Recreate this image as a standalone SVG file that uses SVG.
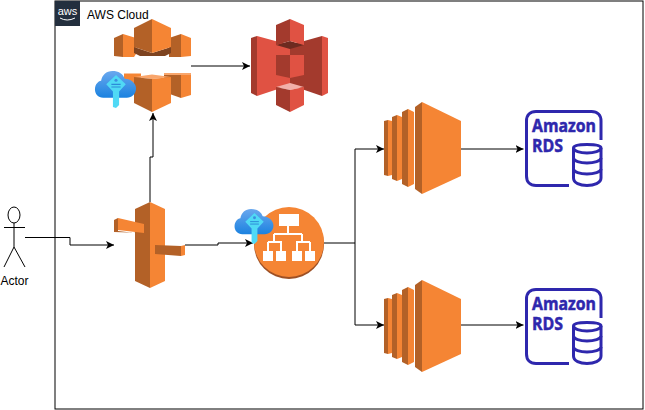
<svg xmlns="http://www.w3.org/2000/svg" width="645" height="410" viewBox="0 0 645 410">
<style>
.o{fill:#f58534}.d{fill:#7d4320}.m{fill:#b36127}.l{fill:#f9a66c}
.r{fill:#e05243}.rd{fill:#6e2a20}.rm{fill:#a33a2d}.rl{fill:#f2b0a9}
.c{fill:none;stroke:#000;stroke-width:1}
.t{font-family:"Liberation Sans",Arial,sans-serif;font-size:12px;fill:#000}
.rds{font-family:"Open Sans","Liberation Sans",sans-serif;font-size:18px;font-weight:700;fill:#2e27ad;stroke:#2e27ad;stroke-width:.5}
</style>
<defs>
<marker id="a" markerWidth="9" markerHeight="8" refX="8" refY="4" orient="auto" markerUnits="userSpaceOnUse"><path d="M0,0 L8,4 L0,8 L2,4Z" fill="#000"/></marker>
<linearGradient id="cg" x1="0" y1="0" x2="0" y2="1"><stop offset="0" stop-color="#6aa8ee"/><stop offset="1" stop-color="#1b82e0"/></linearGradient>
<symbol id="keycloud" viewBox="0 0 40 36">
<path d="M8,26 C3,26 0,22 0,18 C0,13 3,10 6,9.500 C7,4 11,0 17,0 C23,0 27,2.500 29,7.500 C35,7.500 40,12 40,17 C40,22 36,26 31,26Z" fill="url(#cg)"/>
<path d="M20.500,4 L30,13 L23.500,20 L23.500,33 L20.500,36 L17.500,35 L17.500,20 L11,13Z" fill="#50d9f5"/>
<circle cx="20.500" cy="9" r="1.500" fill="#3a8fe0"/>
<path d="M16,13 H25 M16,15.500 H25" stroke="#2c8ad8" stroke-width="1"/>
</symbol>
<symbol id="ec2" viewBox="0 0 77 92" overflow="visible">
<path class="m" d="M0,19 L4,18 V74 L0,73Z"/><path class="o" d="M4,18 L8,19 V73 L4,74Z"/>
<path class="m" d="M8,15 L13,13 V79 L8,77Z"/><path class="o" d="M13,13 L18,15 V77 L13,79Z"/>
<path class="m" d="M18,10 L24,7 V85 L18,82Z"/><path class="o" d="M24,7 L30,10 V82 L24,85Z"/>
<path class="m" d="M31,5 L38,0 V92 L31,87Z"/><path class="o" d="M38,0 L77,19 V74 L38,92Z"/>
</symbol>
<symbol id="rdsicon" viewBox="0 0 80 80" overflow="visible">
<path d="M44,75.500 H11 C5,75.500 1.500,72 1.500,66 V11 C1.500,5 5,1.500 11,1.500 H66.500 C72.500,1.500 76,5 76,11 V30" fill="none" stroke="#2e27ad" stroke-width="3"/>
<path d="M48.500,38 V68 C48.500,73 55,75.500 62,75.500 C69,75.500 76,73 76,68 V38 C76,35 69,34.500 62,34.500 C55,34.500 48.500,35 48.500,38Z" fill="#fff" stroke="#2e27ad" stroke-width="3"/>
<path d="M48.500,38 C48.500,41 55,43 62,43 C69,43 76,41 76,38 M48.500,48 C48.500,51 55,53 62,53 C69,53 76,51 76,48 M48.500,59 C48.500,62 55,64 62,64 C69,64 76,62 76,59" fill="none" stroke="#2e27ad" stroke-width="3"/>
<text class="rds" x="7" y="22" textLength="64" lengthAdjust="spacingAndGlyphs">Amazon</text>
<text class="rds" x="7" y="42" textLength="31" lengthAdjust="spacingAndGlyphs">RDS</text>
</symbol>
</defs>

<g id="aws-cloud">
<rect x="55" y="1" width="588" height="408" fill="#fff" stroke="#000" stroke-width="1"/>
<rect x="55" y="1" width="25" height="25" fill="#232f3e"/>
<text x="67.500" y="15" text-anchor="middle" style="font-family:'Liberation Sans',sans-serif;font-size:11px;fill:#fff">aws</text>
<path d="M60,18 Q67,22 75,18" fill="none" stroke="#fff" stroke-width="1"/>
<text class="t" x="87" y="19">AWS Cloud</text>
</g>

<g id="connectors">
<path class="c" marker-end="url(#a)" d="M25,237.500 H70 V245 H114"/>
<path class="c" marker-end="url(#a)" d="M150,202 V157 H153 V113"/>
<path class="c" marker-end="url(#a)" d="M191,66 H250"/>
<path class="c" marker-end="url(#a)" d="M185,245 H218 V243 H253"/>
<path class="c" marker-end="url(#a)" d="M324,243 H355 V149 H384"/>
<path class="c" marker-end="url(#a)" d="M355,243 V325 H384"/>
<path class="c" marker-end="url(#a)" d="M461,149 H523.500"/>
<path class="c" marker-end="url(#a)" d="M461,325 H523.500"/>
</g>

<g id="actor">
<ellipse cx="14" cy="215" rx="6" ry="8" fill="#fff" stroke="#000"/>
<path d="M14,223 V247 M4,227.500 H25 M14,247 L4,267 M14,247 L25,267" fill="none" stroke="#000"/>
<text class="t" x="14.500" y="285" text-anchor="middle">Actor</text>
</g>

<g id="cloudfront">
<path class="m" d="M114,38 L123,34 V57 L114,56Z"/><path class="o" d="M123,34 L136,38 V54 L134,57 H123Z"/>
<path class="m" d="M169,38 L181,34 V57 H169Z"/><path class="o" d="M181,34 L191,38 V56 L181,57Z"/>
<path class="d" d="M134,47 L152,53 L171,47 V53 L165,56 H140 L134,53Z"/>
<path class="m" d="M134,28 L152,19 V53 L134,47Z"/><path class="o" d="M152,19 L171,28 V47 L152,53Z"/>
<path class="o" d="M124,73.500 H141 V92 H124Z"/>
<path class="m" d="M164,73.500 H181 V98 L164,92Z"/><path class="o" d="M181,73.500 H191 V95 L181,98Z"/>
<path class="l" d="M164,73 H191 V75 H164Z"/>
<path class="l" d="M134,77 L152,74.500 L171,77 L152,79Z"/>
<path class="m" d="M134,77 L152,79 V112 L134,103Z"/><path class="o" d="M152,79 L171,77 V103 L152,112Z"/>
</g>
<use id="key1" href="#keycloud" x="94" y="71" width="43" height="37"/>

<g id="s3">
<path class="rm" d="M251,38 L257,36 V96 L251,93Z"/><path class="r" d="M257,36 L290,45 V85 L257,96Z"/>
<path class="rm" d="M290,45 L322,36 V96 L290,85Z"/><path class="r" d="M322,36 L328,38 V93 L322,96Z"/>
<path class="rd" d="M276,45 L290,41 L304,45 L290,49Z"/>
<path class="rm" d="M276,25 L290,19 V41 L276,45Z"/><path class="r" d="M290,19 L304,25 V45 L290,41Z"/>
<path class="rm" d="M276,55 H290 V78 L276,75Z"/><path class="r" d="M290,55 H304 V75 L290,78Z"/>
<path class="rl" d="M276,87 L290,83 L304,87 L290,90Z"/>
<path class="rm" d="M276,87 L290,90 V112 L276,105Z"/><path class="r" d="M290,90 L304,87 V105 L290,112Z"/>
</g>

<g id="api-gateway">
<path class="m" d="M135,209 L150,202 V288 L135,281Z"/><path class="o" d="M150,202 L165,209 V281 L150,288Z"/>
<path class="m" d="M114,220 L118,218 V231 L144,234 V233 L114,232Z"/><path class="o" d="M118,218 L144,224 V233 L118,230Z"/>
<path class="m" d="M155,245 L181,246 V256 L155,254Z"/><path class="o" d="M181,246 L185,245 V255 L181,256Z"/>
</g>

<g id="elb">
<circle cx="289" cy="244" r="35" fill="#9d5025"/>
<circle cx="289" cy="242" r="35" class="o"/>
<path d="M288,225 V234 M274,234 H302 M274,234 V242 M302,234 V242 M268,242 H282 M296,242 H310 M268,242 V251 M281,242 V251 M297,242 V251 M310,242 V251" stroke="#fff" stroke-width="2" fill="none"/>
<rect x="279" y="214" width="20" height="12" fill="#fff"/>
<rect x="263" y="251" width="10" height="10" fill="#fff"/><rect x="276" y="251" width="10" height="10" fill="#fff"/>
<rect x="292" y="251" width="10" height="10" fill="#fff"/><rect x="305" y="251" width="10" height="10" fill="#fff"/>
</g>
<use id="key2" href="#keycloud" x="234" y="209" width="40" height="35"/>

<use id="ec2-1" href="#ec2" x="384" y="102" width="77" height="92"/>
<use id="ec2-2" href="#ec2" x="384" y="280" width="77" height="92"/>
<use id="rds-1" href="#rdsicon" x="525" y="110" width="80" height="80"/>
<use id="rds-2" href="#rdsicon" x="525" y="288" width="80" height="80"/>
</svg>
